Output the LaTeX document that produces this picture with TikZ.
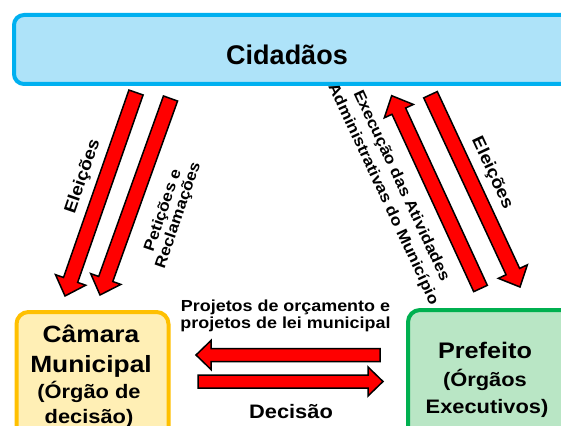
\documentclass[tikz,border=0pt]{standalone}
\usepackage{fontspec}
\setmainfont{Liberation Sans}
\newfontfamily\widefont{Liberation Sans}[FakeStretch=1.12]
\usetikzlibrary{calc}
\definecolor{cidborder}{HTML}{00B0F0}
\definecolor{cidfill}{HTML}{AEE3F9}
\definecolor{camborder}{HTML}{FFC000}
\definecolor{camfill}{HTML}{FFEFB5}
\definecolor{prefborder}{HTML}{00B050}
\definecolor{preffill}{HTML}{B9E6C5}
\tikzset{
  bigbox/.style={line width=4pt, rounded corners=12pt, anchor=north west, inner sep=0pt},
  arrowbody/.style={draw=black, fill=red, line width=1.5pt, line join=miter},
  txt/.style={inner sep=0pt, anchor=base, text=black},
  rotlbl/.style={inner sep=0pt, align=center, text=black},
}
% #1 tail, #2 tip, #3 shaft half width, #4 head half width, #5 head length
\newcommand\fatarrow[5]{%
  \coordinate (fa-c) at ($(#2)!#5!(#1)$);
  \draw[arrowbody] ($(#1)!#3!-90:(#2)$) -- ($(fa-c)!#3!-90:(#2)$) -- ($(fa-c)!#4!-90:(#2)$)
    -- (#2) -- ($(fa-c)!#4!90:(#2)$) -- ($(fa-c)!#3!90:(#2)$) -- ($(#1)!#3!90:(#2)$) -- cycle;}
\begin{document}
\begin{tikzpicture}[x=1pt,y=-1pt]
\clip (0,0) rectangle (561,425);
\fill[white] (0,0) rectangle (561,425);

% boxes
\node[bigbox, draw=cidborder, fill=cidfill, rounded corners=10pt, minimum width=600pt, minimum height=69pt] (cid) at (12,13) {};
\node[bigbox, draw=camborder, fill=camfill, minimum width=152pt, minimum height=150pt] (cam) at (14.5,310) {};
\node[bigbox, draw=prefborder, fill=preffill, minimum width=200pt, minimum height=150pt] (pref) at (406,308) {};

% box texts
\node[txt, font=\bfseries\fontsize{27}{32}\selectfont] (tcid) at (287,64.4) {Cidadãos};
\node[txt, font=\widefont\bfseries\fontsize{23.5}{27}\selectfont] (tcam1) at (91,342) {Câmara};
\node[txt, font=\widefont\bfseries\fontsize{23.5}{27}\selectfont] (tcam2) at (91,372) {Municipal};
\node[txt, font=\widefont\bfseries\fontsize{19.5}{23}\selectfont] (tcam3) at (89,398) {(Órgão de};
\node[txt, font=\widefont\bfseries\fontsize{19.5}{23}\selectfont] (tcam4) at (89,423) {decisão)};
\node[txt, font=\widefont\bfseries\fontsize{22.5}{27}\selectfont] (tpref1) at (485,358) {Prefeito};
\node[txt, font=\widefont\bfseries\fontsize{19.5}{23}\selectfont] (tpref2) at (485,386.6) {(Órgãos};
\node[txt, font=\widefont\bfseries\fontsize{19.5}{23}\selectfont] (tpref3) at (487,413) {Executivos)};

% arrows
\coordinate (a1t) at (136,92.5);   \coordinate (a1h) at (65,296);
\coordinate (a2t) at (170.5,98.5); \coordinate (a2h) at (100,295);
\coordinate (a3t) at (480.5,288.5);\coordinate (a3h) at (391.7,95.7);
\coordinate (a4t) at (430.5,94.7); \coordinate (a4h) at (520,287);
\coordinate (a5t) at (380,355);    \coordinate (a5h) at (196,355);
\coordinate (a6t) at (198,381.5);  \coordinate (a6h) at (383,381.5);
\fatarrow{a1t}{a1h}{7.5pt}{16pt}{17pt}
\fatarrow{a2t}{a2h}{7.5pt}{16pt}{17pt}
\fatarrow{a3t}{a3h}{7.5pt}{16pt}{17pt}
\fatarrow{a4t}{a4h}{7.5pt}{16pt}{17pt}
\fatarrow{a5t}{a5h}{6.5pt}{14.5pt}{15pt}
\fatarrow{a6t}{a6h}{6.5pt}{14.5pt}{15pt}

% arrow labels
\node[rotlbl, rotate=71, font=\widefont\bfseries\fontsize{17}{20}\selectfont] (l1) at (83,177) {Eleições};
\node[rotlbl, rotate=71, font=\widefont\bfseries\fontsize{15.5}{16}\selectfont] (l2) at (171,213) {Petições e\\Reclamações};
\node[rotlbl, rotate=-65, font=\widefont\bfseries\fontsize{15.5}{20}\selectfont] (l3) at (392,190) {Execução das Atividades\\Administrativas do Município};
\node[rotlbl, rotate=-65, font=\widefont\bfseries\fontsize{17}{20}\selectfont] (l4) at (492,173) {Eleições};
\node[txt, font=\widefont\bfseries\fontsize{16}{19}\selectfont] (l5a) at (285.5,311.5) {Projetos de orçamento e};
\node[txt, font=\widefont\bfseries\fontsize{16}{19}\selectfont] (l5b) at (285.5,328.6) {projetos de lei municipal};
\node[txt, font=\widefont\bfseries\fontsize{19.5}{23}\selectfont] (l6) at (291,418.8) {Decisão};
\end{tikzpicture}
\end{document}
